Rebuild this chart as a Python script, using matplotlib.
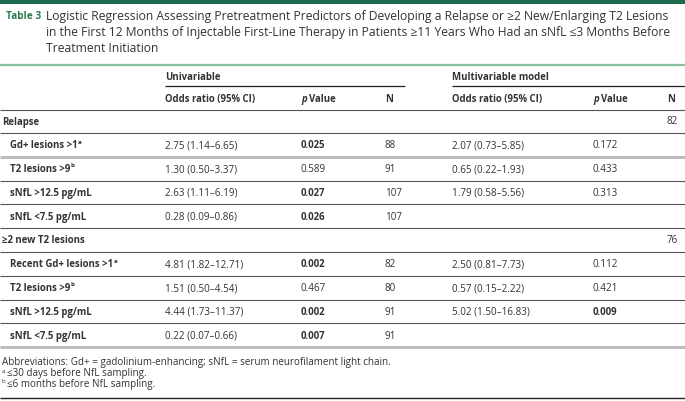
import matplotlib
matplotlib.use("Agg")
import matplotlib.pyplot as plt

plt.rcParams['font.family'] = ['Open Sans', 'DejaVu Sans']

# ---------------- data ----------------
title_tag = "Table 3"
title_lines = [
    "Logistic Regression Assessing Pretreatment Predictors of Developing a Relapse or \u22652 New/Enlarging T2 Lesions",
    "in the First 12 Months of Injectable First-Line Therapy in Patients \u226511 Years Who Had an sNfL \u22643 Months Before",
    "Treatment Initiation",
]
group_headers = ["Univariable", "Multivariable model"]
col_headers = ["Odds ratio (95% CI)", "p Value", "N", "Odds ratio (95% CI)", "p Value", "N"]

sections = ["Relapse", "\u22652 new T2 lesions"]
section_n = ["82", "76"]

relapse_labels = ["Gd+ lesions >1", "T2 lesions >9", "sNfL >12.5 pg/mL", "sNfL <7.5 pg/mL"]
relapse_sups = ["a", "b", "", ""]
relapse_uni_or = ["2.75 (1.14\u20136.65)", "1.30 (0.50\u20133.37)", "2.63 (1.11\u20136.19)", "0.28 (0.09\u20130.86)"]
relapse_uni_p = ["0.025", "0.589", "0.027", "0.026"]
relapse_uni_n = ["88", "91", "107", "107"]
relapse_multi_or = ["2.07 (0.73\u20135.85)", "0.65 (0.22\u20131.93)", "1.79 (0.58\u20135.56)", ""]
relapse_multi_p = ["0.172", "0.433", "0.313", ""]

t2_labels = ["Recent Gd+ lesions >1", "T2 lesions >9", "sNfL >12.5 pg/mL", "sNfL <7.5 pg/mL"]
t2_sups = ["a", "b", "", ""]
t2_uni_or = ["4.81 (1.82\u201312.71)", "1.51 (0.50\u20134.54)", "4.44 (1.73\u201311.37)", "0.22 (0.07\u20130.66)"]
t2_uni_p = ["0.002", "0.467", "0.002", "0.007"]
t2_uni_n = ["82", "80", "91", "91"]
t2_multi_or = ["2.50 (0.81\u20137.73)", "0.57 (0.15\u20132.22)", "5.02 (1.50\u201316.83)", ""]
t2_multi_p = ["0.112", "0.421", "0.009", ""]

footnotes = [
    ("", "Abbreviations: Gd+ = gadolinium-enhancing; sNfL = serum neurofilament light chain."),
    ("a", "\u226430 days before NfL sampling."),
    ("b", "\u22646 months before NfL sampling."),
]

# ---------------- layout ----------------
W, H = 685, 402
fig = plt.figure(figsize=(W / 100, H / 100), dpi=100)
ax = fig.add_axes([0, 0, 1, 1])
ax.set_xlim(0, W)
ax.set_ylim(H, 0)
ax.axis("off")

TXT = "#333333"
GREEN_DARK = "#1d6a4c"
GREEN = "#2b7a52"
GREEN_LIGHT = "#86bea0"
LINE_DARK = "#555555"
LINE_GRAY = "#bdbdbd"

FS = 6.9          # bold body text
FS_REG = 7.1      # regular body text
FS_FOOT = 7.15
FS_TITLE = 8.72
FS_TAG = 7.3
renderer = fig.canvas.get_renderer()
inv = ax.transData.inverted()


def right_edge(t):
    bb = t.get_window_extent(renderer)
    return inv.transform((bb.x1, bb.y1))[0]


def hline(y, x0=0, x1=W, color=LINE_DARK, lw=0.8):
    ax.plot([x0, x1], [y, y], color=color, lw=lw, solid_capstyle="butt")


# top bar
ax.fill_between([0, W], 0, 4.5, color=GREEN_DARK, lw=0)

# title
title_y = [16.5, 32.5, 48.5]
ax.text(6, title_y[0], title_tag, fontsize=FS_TAG, fontweight="bold", color=GREEN, va="center")
for y, line in zip(title_y, title_lines):
    ax.text(46.5, y, line, fontsize=FS_TITLE, color=TXT, va="center")

hline(66, color=GREEN_LIGHT, lw=1.6)

# columns
cx = [165, 301, 385, 452, 593, 667]
ax.text(cx[0], 77, group_headers[0], fontsize=FS, fontweight="bold", color=TXT, va="center")
ax.text(cx[3], 77, group_headers[1], fontsize=FS, fontweight="bold", color=TXT, va="center")
hline(86.5, 165, 405, color="#222222", lw=0.9)
hline(86.5, 452, W, color="#222222", lw=0.9)

for x, h in zip(cx, col_headers):
    if h == "p Value":
        t = ax.text(x, 99.5, "p", fontsize=FS, fontweight="bold", fontstyle="italic", color=TXT, va="center")
        ax.text(right_edge(t) + 2.5, 99.5, "Value", fontsize=FS, fontweight="bold", color=TXT, va="center")
    else:
        ax.text(x, 99.5, h, fontsize=FS, fontweight="bold", color=TXT, va="center")
hline(110.5)

step = 23.8
row_y0 = 122
blocks = [
    (relapse_labels, relapse_sups, relapse_uni_or, relapse_uni_p, relapse_uni_n, relapse_multi_or, relapse_multi_p),
    (t2_labels, t2_sups, t2_uni_or, t2_uni_p, t2_uni_n, t2_multi_or, t2_multi_p),
]


def pval(x, y, s):
    bold = float(s) < 0.05
    ax.text(x, y, s, fontsize=FS if bold else FS_REG, color=TXT, va="center",
            fontweight="bold" if bold else "normal")


i = 0
for s_idx, (sec, sec_n, blk) in enumerate(zip(sections, section_n, blocks)):
    y = row_y0 + i * step
    ax.text(2, y, sec, fontsize=FS, fontweight="bold", color=TXT, va="center")
    ax.text(cx[5], y, sec_n, fontsize=FS_REG, color=TXT, va="center")
    hline(y + step / 2)
    i += 1
    labels, sups, uor, up, un, mor, mp = blk
    for r in range(len(labels)):
        y = row_y0 + i * step
        t = ax.text(10, y, labels[r], fontsize=FS, fontweight="bold", color=TXT, va="center")
        if sups[r]:
            ax.text(right_edge(t) + 0.6, y - 3.6, sups[r], fontsize=FS * 0.65, fontweight="bold", color=TXT, va="center")
        ax.text(cx[0], y, uor[r], fontsize=FS_REG, color=TXT, va="center")
        pval(cx[1], y, up[r])
        ax.text(cx[2], y, un[r], fontsize=FS_REG, color=TXT, va="center")
        if mor[r]:
            ax.text(cx[3], y, mor[r], fontsize=FS_REG, color=TXT, va="center")
        if mp[r]:
            pval(cx[4], y, mp[r])
        last = (s_idx == len(sections) - 1 and r == len(labels) - 1)
        if last or (s_idx == 0 and r == 0):
            hline(y + step / 2, color=LINE_GRAY, lw=2.2)
        else:
            hline(y + step / 2)
        i += 1

# footnotes
fn_y = [363, 374, 384.5]
for (sup, txt), y in zip(footnotes, fn_y):
    if sup:
        ax.text(2, y - 2.5, sup, fontsize=FS_FOOT * 0.62, color=TXT, va="center")
        ax.text(7.5, y, txt, fontsize=FS_FOOT, color=TXT, va="center")
    else:
        ax.text(2, y, txt, fontsize=FS_FOOT, color=TXT, va="center")

hline(398.5, color="#222222", lw=1.0)

fig.savefig("out.png", dpi=100)
